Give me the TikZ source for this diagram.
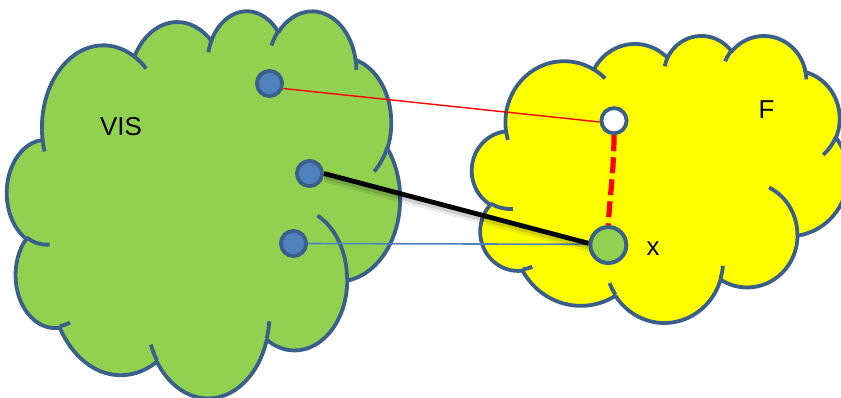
\documentclass[tikz,border=0pt]{standalone}
\usepackage{fontspec}
\setmainfont{Liberation Sans}
\usetikzlibrary{calc}
\definecolor{cloudedge}{HTML}{3A5F8B}
\definecolor{cloudgreen}{HTML}{92D050}
\definecolor{dotblue}{HTML}{4F81BD}
\definecolor{cloudyellow}{HTML}{FFFF00}
\definecolor{linered}{HTML}{FF0000}
\tikzset{
  ooarc/.style n args={4}{insert path={arc[x radius=#1, y radius=#2,
    start angle={#3+Mod(atan2(#1*sin(#3),#2*cos(#3))-(#3)+180,360)-180},
    end angle={#3+#4+Mod(atan2(#1*sin(#3+#4),#2*cos(#3+#4))-(#3+#4)+180,360)-180}]}},
  cloudline/.style={draw=cloudedge, line width=0.095cm, line join=round},
  dotnode/.style={circle, draw=cloudedge, line width=0.095cm, inner sep=0pt, minimum size=0.63cm},
  txtlabel/.style={font=\fontsize{18.4}{22}\selectfont, inner sep=0pt, text=black},
}
% cloud: #1,#2 top-left corner, #3 width, #4 height (units of 10px), #5 fill
\newcommand\mycloud[5]{%
\begin{scope}[shift={(#1,#2)}, xscale=#3/43.2, yscale=#4/43.2]
\path[cloudline, fill=#5] (3.9,14.37)
  [ooarc={6.753}{9.19}{-190.4875}{123.7805}]
  [ooarc={5.333}{7.267}{-144.1024}{89.9452}]
  [ooarc={4.365}{5.945}{-145.8079}{99.7230}]
  [ooarc={4.857}{6.595}{-130.9861}{117.2417}]
  [ooarc={5.333}{7.273}{-78.7089}{109.0269}]
  [ooarc={6.775}{9.22}{-46.2673}{130.2690}]
  [ooarc={5.785}{7.867}{0.6250}{114.0333}]
  [ooarc={6.752}{9.215}{22.4516}{115.1726}]
  [ooarc={7.72}{10.543}{66.2426}{75.7110}]
  [ooarc={4.36}{5.918}{-274.9421}{146.7356}]
  [ooarc={4.345}{5.945}{-246.8285}{152.5189}] -- cycle;
\draw[cloudline]
  (4.693,26.177) [ooarc={4.345}{5.945}{86.7420}{26.4295}]
  (6.928,34.899) [ooarc={4.36}{5.918}{73.6105}{11.4475}]
  (16.478,39.09) [ooarc={6.752}{9.215}{137.6242}{14.0811}]
  (28.827,34.751) [ooarc={6.752}{9.215}{6.4533}{15.9984}]
  (34.129,22.954) [ooarc={5.785}{7.867}{-70.2924}{70.9174}]
  (41.798,15.354) [ooarc={5.333}{7.273}{30.3180}{27.7515}]
  (38.324,5.426) [ooarc={4.857}{6.595}{-13.7443}{14.8589}]
  (29.078,3.952) [ooarc={4.857}{6.595}{-149.1815}{18.1954}]
  (22.141,4.72) [ooarc={4.365}{5.945}{-163.4943}{17.6864}]
  (14.0,5.192) [ooarc={6.753}{9.19}{-66.7070}{12.3194}]
  (4.127,15.789) [ooarc={6.753}{9.19}{157.6544}{11.8582}];
\end{scope}}
\begin{document}
% 1 unit = 10 px of the reference, y downward
\begin{tikzpicture}[xscale=0.25, yscale=-0.25]
\useasboundingbox (0,0) rectangle (84.1,39.7);
\fill[white] (0,0) rectangle (84.1,39.7);
\mycloud{0.7}{1.0}{39.3}{38.7}{cloudgreen}
\mycloud{47.2}{3.5}{37.6}{28.7}{cloudyellow}
\node[txtlabel] (vis) at (12.1,12.7) {VIS};
\node[txtlabel] (f) at (76.65,11.0) {F};
\node[txtlabel] (x) at (65.3,24.83) {x};
\node[dotnode, fill=dotblue] (p1) at (26.95,8.35) {};
\node[dotnode, fill=dotblue] (p2) at (30.95,17.35) {};
\node[dotnode, fill=dotblue] (p3) at (29.35,24.35) {};
\node[dotnode, fill=white] (odot) at (61.4,12.07) {};
\node[dotnode, fill=cloudgreen, line width=0.1cm, minimum size=0.9cm] (gdot) at (60.83,24.5) {};
\draw[linered, line width=0.035cm] (p1.-20) -- (odot.185);
\draw[dotblue, line width=0.04cm] (p3.east) -- (gdot.178);
\draw[black, opacity=0.08, line width=0.24cm] ($(p2.east)+(0.1,0.4)$) -- ($(gdot.175)+(0.1,0.4)$);
\draw[black, opacity=0.12, line width=0.17cm] ($(p2.east)+(0.05,0.25)$) -- ($(gdot.175)+(0.05,0.25)$);
\draw[black, line width=0.12cm] (p2.east) -- (gdot.175);
\draw[linered, line width=0.13cm, dash pattern=on 11.4pt off 4.3pt] (odot.south) .. controls +(0,3.5) and +(0.12,-2.6) .. (gdot.north);
\end{tikzpicture}
\end{document}
